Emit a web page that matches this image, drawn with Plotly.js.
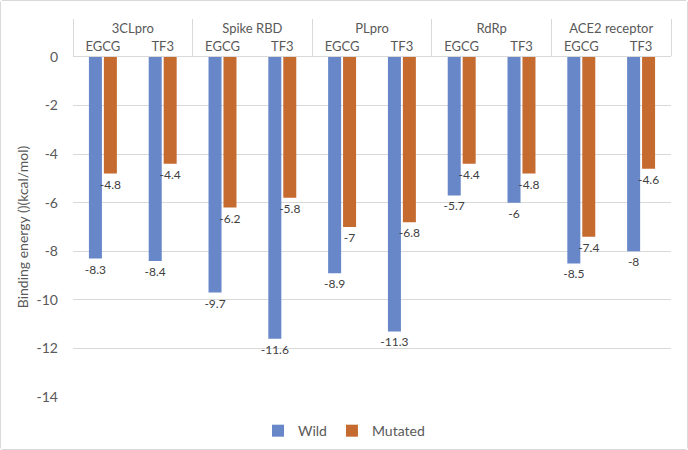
<!DOCTYPE html>
<html>
<head>
<meta charset="utf-8">
<script src="https://cdn.plot.ly/plotly-3.0.1.min.js"></script>
<style>
html,body{margin:0;padding:0;background:#fff;}
#chart{width:686px;height:448px;border:1px solid #d9d9d9;border-radius:3px;}
</style>
</head>
<body>
<div id="chart"></div>
<script>
const targets = ['3CLpro','3CLpro','Spike RBD','Spike RBD','PLpro','PLpro','RdRp','RdRp','ACE2 receptor','ACE2 receptor'];
const compounds = ['EGCG','TF3','EGCG','TF3','EGCG','TF3','EGCG','TF3','EGCG','TF3'];
const wild = [-8.3,-8.4,-9.7,-11.6,-8.9,-11.3,-5.7,-6,-8.5,-8];
const mutated = [-4.8,-4.4,-6.2,-5.8,-7,-6.8,-4.4,-4.8,-7.4,-4.6];
const yTicks = [0,-2,-4,-6,-8,-10,-12,-14];

const FONT = 'Lato, "Open Sans", sans-serif';
const labelFont = {family: FONT, size: 12, color: '#404040'};

const traces = [
  {type:'bar', name:'Wild', x:[targets, compounds], y:wild,
   marker:{color:'#6787C9'}, text:wild.map(String), textposition:'outside',
   constraintext:'none', cliponaxis:false, textfont:labelFont, hoverinfo:'none'},
  {type:'bar', name:'Mutated', x:[targets, compounds], y:mutated,
   marker:{color:'#C66B30'}, text:mutated.map(String), textposition:'outside',
   constraintext:'none', cliponaxis:false, textfont:labelFont, hoverinfo:'none'}
];

const layout = {
  width:686, height:448,
  margin:{l:72, r:16, t:56, b:52, autoexpand:false},
  paper_bgcolor:'#fff', plot_bgcolor:'#fff',
  font:{family:FONT, size:12, color:'#595959'},
  barmode:'group', bargap:0.5, bargroupgap:0.13,
  showlegend:true,
  legend:{orientation:'h', xref:'container', x:0.5, xanchor:'center', yref:'container', y:0.04, yanchor:'middle',
          font:{family:FONT, size:14, color:'#595959'}, itemwidth:30, traceorder:'normal'},
  xaxis:{type:'multicategory', side:'top', showline:true, linecolor:'#d9d9d9', linewidth:1,
         showdividers:true, dividercolor:'#d9d9d9', dividerwidth:1,
         ticks:'', tickfont:{family:FONT, size:13, color:'#595959'}, showgrid:false},
  yaxis:{range:[-14,0], tickvals:yTicks, ticktext:yTicks.map(String), showgrid:true, gridcolor:'#d9d9d9',
         zeroline:false, showline:false, ticks:'', ticklabelstandoff:14,
         tickfont:{family:FONT, size:14, color:'#595959'},
         title:{text:'Binding energy ()(kcal/mol)', font:{family:FONT, size:14, color:'#595959'}, standoff:4}}
};

Plotly.newPlot('chart', traces, layout, {displayModeBar:false, staticPlot:true});
</script>
</body>
</html>
